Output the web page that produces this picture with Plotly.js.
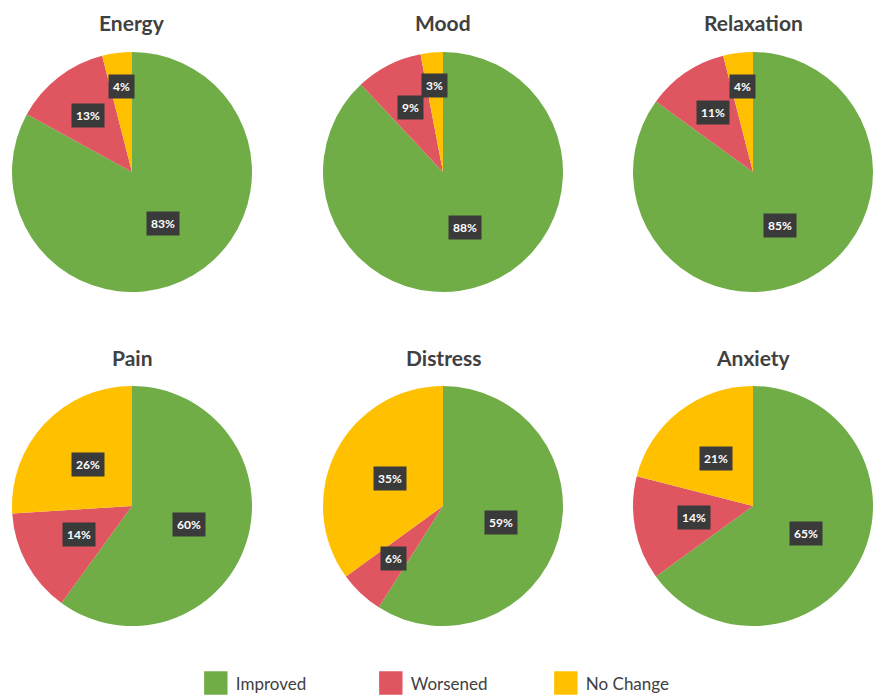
<!DOCTYPE html>
<html>
<head>
<meta charset="utf-8">
<script src="https://cdn.plot.ly/plotly-3.0.1.min.js"></script>
<style>html,body{margin:0;padding:0;background:#fff;}#chart{width:873px;height:698px;}</style>
</head>
<body>
<div id="chart"></div>
<script>
// ---- data ----
const categories = ["Improved", "Worsened", "No Change"];
const panels = ["Energy", "Mood", "Relaxation", "Pain", "Distress", "Anxiety"];
const energy     = [83, 13, 4];
const mood       = [88, 9, 3];
const relaxation = [85, 11, 4];
const pain       = [60, 14, 26];
const distress   = [59, 6, 35];
const anxiety    = [65, 14, 21];
const seriesValues = [energy, mood, relaxation, pain, distress, anxiety];

// ---- layout / style ----
const W = 873, H = 698;
const colors = ["#70AD47", "#E05660", "#FFC000"];
const fontFam = "Lato, 'Open Sans', sans-serif";
// pie domains in pixels [x0, x1, yTop, yBottom]
const boxes = [
  [12, 252, 52, 292], [323, 563, 52, 292], [633, 873, 52, 292],
  [12, 252, 386, 626], [323, 563, 386, 626], [633, 873, 386, 626]
];
const titleY = [22, 22, 22, 357, 357, 357];

const traces = [];
const annotations = [];
seriesValues.forEach((vals, i) => {
  const b = boxes[i];
  const dom = {x: [b[0] / W, b[1] / W], y: [1 - b[3] / H, 1 - b[2] / H]};
  traces.push({
    type: "pie",
    labels: categories,
    values: vals,
    sort: false,
    direction: "clockwise",
    rotation: 0,
    domain: dom,
    marker: {colors: colors, line: {width: 0}},
    textinfo: "none",
    hoverinfo: "label+percent",
    showlegend: i === 0,
    name: panels[i]
  });
  const cx = (b[0] + b[1]) / 2, cy = (b[2] + b[3]) / 2;
  const R = Math.min(b[1] - b[0], b[3] - b[2]) / 2;
  // title
  annotations.push({
    text: "<b>" + panels[i] + "</b>", xref: "paper", yref: "paper",
    x: cx / W, y: 1 - titleY[i] / H, xanchor: "center", yanchor: "middle",
    showarrow: false, font: {family: fontFam, size: 21, color: "#404040"}
  });
  // data labels derived from values
  const total = vals.reduce((a, c) => a + c, 0);
  let cum = 0;
  vals.forEach((v) => {
    const mid = (cum + v / 2) / total * 2 * Math.PI;
    cum += v;
    const frac = v / total < 0.05 ? 0.72 : (v / total < 0.14 ? 0.6 : 0.5);
    const px = cx + frac * R * Math.sin(mid);
    const py = cy - frac * R * Math.cos(mid);
    annotations.push({
      text: "<b>" + Math.round(v / total * 100) + "%</b>", xref: "paper", yref: "paper",
      x: px / W, y: 1 - py / H, xanchor: "center", yanchor: "middle",
      showarrow: false, bgcolor: "#3A3A3A", borderpad: 4,
      font: {family: fontFam, size: 12, color: "#FFFFFF"}
    });
  });
});

const layout = {
  width: W, height: H,
  margin: {l: 0, r: 0, t: 0, b: 0, autoexpand: false},
  paper_bgcolor: "#FFFFFF",
  showlegend: true,
  legend: {
    orientation: "h", x: 0.525, xanchor: "center", y: -0.005, yanchor: "bottom",
    font: {family: fontFam, size: 17, color: "#404040"},
    entrywidth: 130, entrywidthmode: "pixels", traceorder: "normal"
  },
  annotations: annotations
};

Plotly.newPlot("chart", traces, layout, {displayModeBar: false, staticPlot: true}).then(() => {
  document.querySelectorAll(".legendpoints path").forEach(p => {
    const t = p.getAttribute("transform") || "";
    p.setAttribute("transform", t + " scale(1.95)");
  });
});
</script>
</body>
</html>
